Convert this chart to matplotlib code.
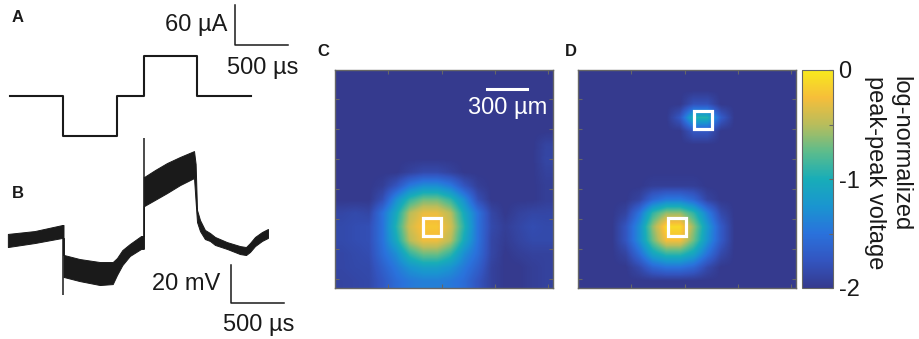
import matplotlib
matplotlib.use('Agg')
import matplotlib.pyplot as plt
import numpy as np
from matplotlib.colors import LinearSegmentedColormap
from matplotlib.patches import Rectangle

plt.rcParams['font.family'] = ['Liberation Sans', 'DejaVu Sans']
plt.rcParams['axes.unicode_minus'] = False

# --- A: stimulus current (us, uA)
stim_t = [0, 500, 500, 1000, 1000, 1250, 1250, 1750, 1750, 2250]
stim_i = [0, 0, -60, -60, 0, 0, 60, 60, 0, 0]

# --- B: recorded voltage envelope (us, mV), noise band lower / upper
rec_t = [-20, 230, 490, 500, 500, 505, 650, 840, 960, 1000, 1050, 1120, 1225, 1250,
         1250, 1255, 1355, 1467, 1589, 1720, 1735, 1748, 1776, 1822, 1869, 1916,
         2028, 2150, 2206, 2243, 2290, 2355, 2411]
rec_lo = [-3.7, -1.6, 1.1, 1.1, -19.5, -19.5, -21.6, -23.7, -23.2, -18.4, -13.2, -8.4, -4.7, -4.7,
          17.9, 17.9, 21.1, 24.7, 28.9, 32.6, 20.0, 9.5, 4.7, 0.5, -0.5, -2.6,
          -4.7, -7.4, -7.9, -6.3, -3.2, -0.5, 1.1]
rec_hi = [3.2, 4.7, 7.9, 7.9, -7.9, -7.9, -10.0, -11.6, -11.6, -9.5, -5.3, -2.1, 2.1, 2.1,
          33.2, 33.2, 36.8, 40.5, 43.7, 46.8, 40.0, 15.8, 10.5, 5.3, 3.7, 1.6,
          -1.1, -3.2, -3.7, -1.6, 1.6, 4.2, 5.8]
spike_t = [500, 1250]
spike_lo = [-28.9, -4.7]
spike_hi = [7.9, 53.7]

# --- C / D: log-normalized peak-peak voltage maps (16 x 16, rows top to bottom)
map_side = 1635  # um
map_c = [
    [-2] * 16,
    [-2] * 16,
    [-2] * 16,
    [-2] * 16,
    [-2] * 16,
    [-2, -2, -2, -2, -2, -2, -2, -2, -2, -2, -2, -2, -2, -2, -2, -1.9],
    [-2, -2, -2, -2, -2, -2, -2, -2, -2, -2, -2, -2, -2, -2, -2, -1.88],
    [-2, -2, -2, -2, -2, -1.92, -1.85, -1.85, -1.92, -2, -2, -2, -2, -2, -2, -1.92],
    [-2, -2, -2, -1.95, -1.75, -1.45, -1.3, -1.3, -1.45, -1.75, -1.95, -2, -2, -2, -2, -1.95],
    [-2, -2, -2, -1.8, -1.3, -0.9, -0.7, -0.7, -0.9, -1.3, -1.8, -2, -2, -2, -2, -1.95],
    [-1.88, -1.85, -1.88, -1.5, -1.05, -0.5, -0.3, -0.3, -0.5, -1.05, -1.5, -1.88, -2, -1.92, -1.88, -1.88],
    [-1.85, -1.82, -1.8, -1.5, -0.95, -0.4, -0.2, -0.2, -0.4, -0.95, -1.5, -1.85, -1.95, -1.88, -1.82, -1.85],
    [-1.85, -1.82, -1.8, -1.5, -1.05, -0.5, -0.28, -0.28, -0.5, -1.05, -1.5, -1.88, -1.97, -1.9, -1.85, -1.85],
    [-1.88, -1.85, -1.82, -1.55, -1.3, -0.9, -0.7, -0.7, -0.9, -1.3, -1.55, -1.88, -2, -1.95, -1.92, -1.92],
    [-1.88, -1.86, -1.85, -1.65, -1.45, -1.25, -1.15, -1.15, -1.25, -1.45, -1.65, -1.92, -2, -2, -1.95, -1.92],
    [-1.9, -1.88, -1.86, -1.72, -1.55, -1.45, -1.4, -1.4, -1.45, -1.55, -1.75, -1.92, -2, -2, -1.95, -1.92],
]
map_d = [
    [-2] * 16,
    [-2] * 16,
    [-2, -2, -2, -2, -2, -2, -2, -2, -1.78, -1.78, -2, -2, -2, -2, -2, -2],
    [-2, -2, -2, -2, -2, -2, -2, -1.72, -0.95, -0.95, -1.68, -2, -2, -2, -2, -2],
    [-2, -2, -2, -2, -2, -2, -2, -2, -1.72, -1.72, -2, -2, -2, -2, -2, -2],
    [-2] * 16,
    [-2] * 16,
    [-2] * 16,
    [-2, -2, -2, -2, -2, -1.95, -1.95, -1.95, -1.95, -2, -2, -2, -2, -2, -2, -2],
    [-2, -2, -2, -2, -1.9, -1.6, -1.45, -1.45, -1.6, -1.9, -2, -2, -2, -2, -2, -2],
    [-2, -2, -2, -1.9, -1.5, -0.9, -0.6, -0.6, -0.9, -1.4, -1.85, -2, -2, -2, -2, -2],
    [-2, -2, -2, -1.75, -1.3, -0.6, -0.1, -0.1, -0.6, -1.2, -1.7, -2, -2, -2, -2, -2],
    [-2, -2, -2, -1.75, -1.3, -0.7, -0.25, -0.25, -0.7, -1.25, -1.7, -2, -2, -2, -2, -2],
    [-2, -2, -2, -1.9, -1.55, -1.1, -0.9, -0.9, -1.1, -1.5, -1.85, -2, -2, -2, -2, -2],
    [-2, -2, -2, -2, -1.85, -1.6, -1.5, -1.5, -1.6, -1.85, -2, -2, -2, -2, -2, -2],
    [-2] * 16,
]
# recording sites (um from top-left)
site_c = [(727, 1178)]
site_d = [(742, 1178), (937, 375)]

# parula-like map, tuned to the printed figure
parula = LinearSegmentedColormap.from_list('parula', [
    '#353a8e', '#3355c0', '#2a72dc', '#1a95d0', '#18adb8',
    '#5cbc8c', '#b8bd5c', '#f6be3a', '#f8ea1c'])

ink = '#1a1a1a'
frame = '#666666'
fs = 17
W, H = 919.0, 339.0

fig = plt.figure(figsize=(9.19, 3.39), dpi=100)


def px_axes(x0, y0, w, h):
    return fig.add_axes([x0 / W, 1 - (y0 + h) / H, w / W, h / H])


# A
axA = px_axes(0, 0, 310, 140)
axA.plot(stim_t, stim_i, color=ink, lw=1.5)
axA.plot([2103, 2103, 2603], [136.5, 76.5, 76.5], color=ink, lw=1.1)
axA.text(2028, 106, '60 µA', ha='right', va='center', fontsize=fs, color=ink)
axA.text(2028, 42, '500 µs', ha='left', va='center', fontsize=fs, color=ink)
axA.set_xlim(-93.5, 2804)
axA.set_ylim(-66, 144)
axA.axis('off')

# B
axB = px_axes(0, 130, 310, 209)
axB.fill_between(rec_t, rec_lo, rec_hi, color=ink, lw=0.7)
axB.vlines(spike_t, spike_lo, spike_hi, color=ink, lw=1.1)
axB.plot([2065, 2065, 2565], [-13.2, -33.2, -33.2], color=ink, lw=1.1)
axB.text(1963, -23.2, '20 mV', ha='right', va='center', fontsize=fs, color=ink)
axB.text(1991, -44.7, '500 µs', ha='left', va='center', fontsize=fs, color=ink)
axB.set_xlim(-93.5, 2804)
axB.set_ylim(-52.1, 57.9)
axB.axis('off')


def draw_map(ax, grid, sites):
    im = ax.imshow(np.array(grid), cmap=parula, vmin=-2, vmax=0,
                   extent=[0, map_side, map_side, 0], interpolation='bilinear',
                   interpolation_stage='data', aspect='auto')
    for (sx, sy) in sites:
        ax.add_patch(Rectangle((sx - 68, sy - 68), 136, 136, fill=False,
                               ec='white', lw=2.3))
    ax.set_xticks([400, 800, 1200, 1600])
    ax.set_yticks([220, 445, 670, 895, 1120, 1345, 1570])
    ax.tick_params(direction='in', length=3, color=frame, top=True, right=True,
                   labelbottom=False, labelleft=False)
    for s in ax.spines.values():
        s.set_color(frame)
        s.set_linewidth(1.0)
    return im


# C
axC = px_axes(335, 70, 218, 218)
draw_map(axC, map_c, site_c)
axC.plot([1140, 1440], [142, 142], color='white', lw=2.2)
axC.text(1294, 285, '300 µm', ha='center', va='center', fontsize=fs, color='white')

# D
axD = px_axes(578, 70, 218, 218)
im = draw_map(axD, map_d, site_d)

cax = px_axes(802, 70, 31, 218)
cb = fig.colorbar(im, cax=cax)
cb.set_ticks([-2, -1.5, -1, -0.5, 0])
cb.set_ticklabels(['-2', '', '-1', '', '0'])
cax.tick_params(direction='in', length=3, color=frame, labelsize=fs, pad=4,
                labelcolor=ink)
cb.outline.set_edgecolor(frame)
fig.text(888 / W, 1 - 76 / H, 'log-normalized\npeak-peak voltage', rotation=270,
         ha='center', va='top', multialignment='left', fontsize=fs, color=ink)

# panel letters
for lab, x, y in [('A', 18, 18), ('B', 18, 193), ('C', 323, 51), ('D', 571, 51)]:
    fig.text(x / W, 1 - y / H, lab, ha='center', va='center', fontsize=12,
             fontweight='bold', color=ink)

fig.savefig('out.png', dpi=100)
